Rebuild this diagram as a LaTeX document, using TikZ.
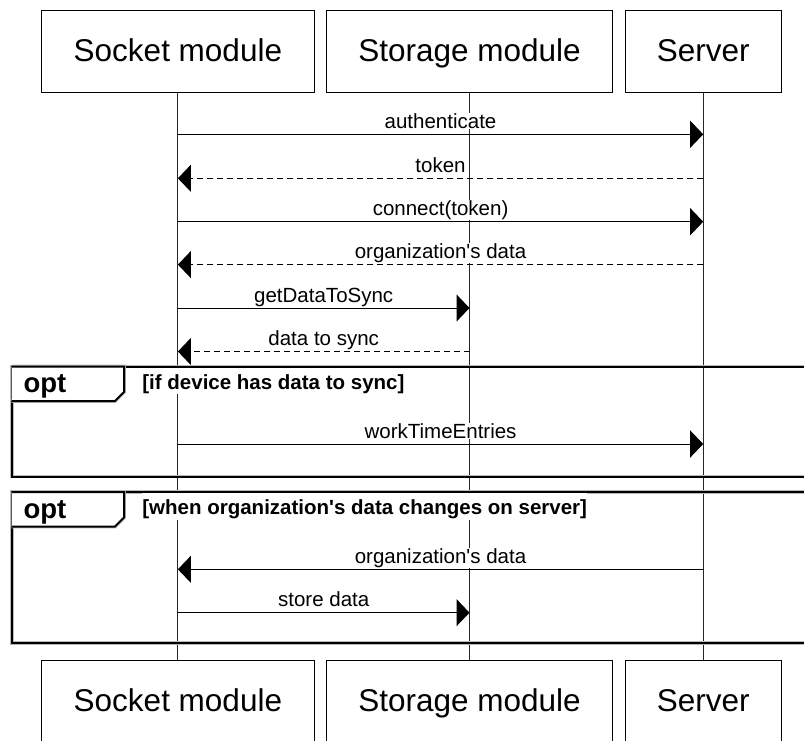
\documentclass[tikz,border=0pt]{standalone}
\usepackage{fontspec}
\setmainfont{Liberation Sans}[Ligatures=TeXOff]
\usetikzlibrary{arrows.meta}
\begin{document}
\begin{tikzpicture}[x=1pt,y=-1pt,
  partbox/.style={draw=black, line width=1pt, fill=white, minimum height=82pt,
    inner sep=0pt, text height=22.6pt, text depth=2.8pt,
    font=\fontsize{31.5}{36}\selectfont},
  lifeline/.style={line width=1pt, black!85},
  msgsync/.style={line width=1pt, black, -{Triangle[length=13pt,width=27pt]}},
  msgret/.style={msgsync, dash pattern=on 6pt off 4pt},
  msglabel/.style={font=\fontsize{20.5}{24}\selectfont, fill=white,
    inner sep=0.5pt, anchor=base, yshift=6pt},
  framebox/.style={draw=black, line width=2pt,
    preaction={draw=black!28, line width=3.8pt}},
  optlabel/.style={font=\fontsize{27.5}{32}\bfseries\selectfont, anchor=base west, inner sep=0pt},
  guardlabel/.style={font=\fontsize{20.5}{24}\bfseries\selectfont, anchor=base west,
    fill=white, inner sep=0.5pt, text height=21pt, text depth=4.5pt}
]
\useasboundingbox (0,0) rectangle (804,740);
\clip (0,0) rectangle (804,740);
\fill[white] (0,0) rectangle (804,740);

% participants
\node[partbox, minimum width=272.3pt] (sockTop) at (177.9,51.85) {Socket module};
\node[partbox, minimum width=286pt]   (storTop) at (469.5,51.85) {Storage module};
\node[partbox, minimum width=156pt]   (servTop) at (703.2,51.85) {Server};
\node[partbox, minimum width=272.3pt] (sockBot) at (177.9,701.7) {Socket module};
\node[partbox, minimum width=286pt]   (storBot) at (469.5,701.7) {Storage module};
\node[partbox, minimum width=156pt]   (servBot) at (703.2,701.7) {Server};

% lifelines
\draw[lifeline] (sockTop.south) -- (sockBot.north);
\draw[lifeline] (storTop.south) -- (storBot.north);
\draw[lifeline] (servTop.south) -- (servBot.north);

% combined fragments
\draw[framebox] (11.7,366.5) rectangle (840,476.5);
\draw[framebox, fill=white] (11.7,366.5) -- (124,366.5) -- (124,392) -- (115,401) -- (11.7,401);
\node[optlabel] (opt1) at (23.3,392.5) {opt};
\node[guardlabel] (guard1) at (141.7,389) {[if device has data to sync]};

\draw[framebox] (11.7,492) rectangle (840,643.3);
\draw[framebox, fill=white] (11.7,492) -- (124,492) -- (124,517.5) -- (115,526.5) -- (11.7,526.5);
\node[optlabel] (opt2) at (23.3,518) {opt};
\node[guardlabel] (guard2) at (141.7,514.5) {[when organization's data changes on server]};

% message rows
\coordinate (y1) at (0,134.3);
\coordinate (y2) at (0,178.3);
\coordinate (y3) at (0,221.7);
\coordinate (y4) at (0,264.6);
\coordinate (y5) at (0,308);
\coordinate (y6) at (0,351.5);
\coordinate (y7) at (0,444);
\coordinate (y8) at (0,569.3);
\coordinate (y9) at (0,612.7);

\draw[msgsync] (sockTop |- y1) -- node[msglabel] {authenticate} (servTop |- y1);
\draw[msgret]  (servTop |- y2) -- node[msglabel] {token} (sockTop |- y2);
\draw[msgsync] (sockTop |- y3) -- node[msglabel] {connect(token)} (servTop |- y3);
\draw[msgret]  (servTop |- y4) -- node[msglabel] {organization's data} (sockTop |- y4);
\draw[msgsync] (sockTop |- y5) -- node[msglabel] {getDataToSync} (storTop |- y5);
\draw[msgret]  (storTop |- y6) -- node[msglabel] {data to sync} (sockTop |- y6);
\draw[msgsync] (sockTop |- y7) -- node[msglabel] {workTimeEntries} (servTop |- y7);
\draw[msgsync] (servTop |- y8) -- node[msglabel] {organization's data} (sockTop |- y8);
\draw[msgsync] (sockTop |- y9) -- node[msglabel] {store data} (storTop |- y9);
\end{tikzpicture}
\end{document}
